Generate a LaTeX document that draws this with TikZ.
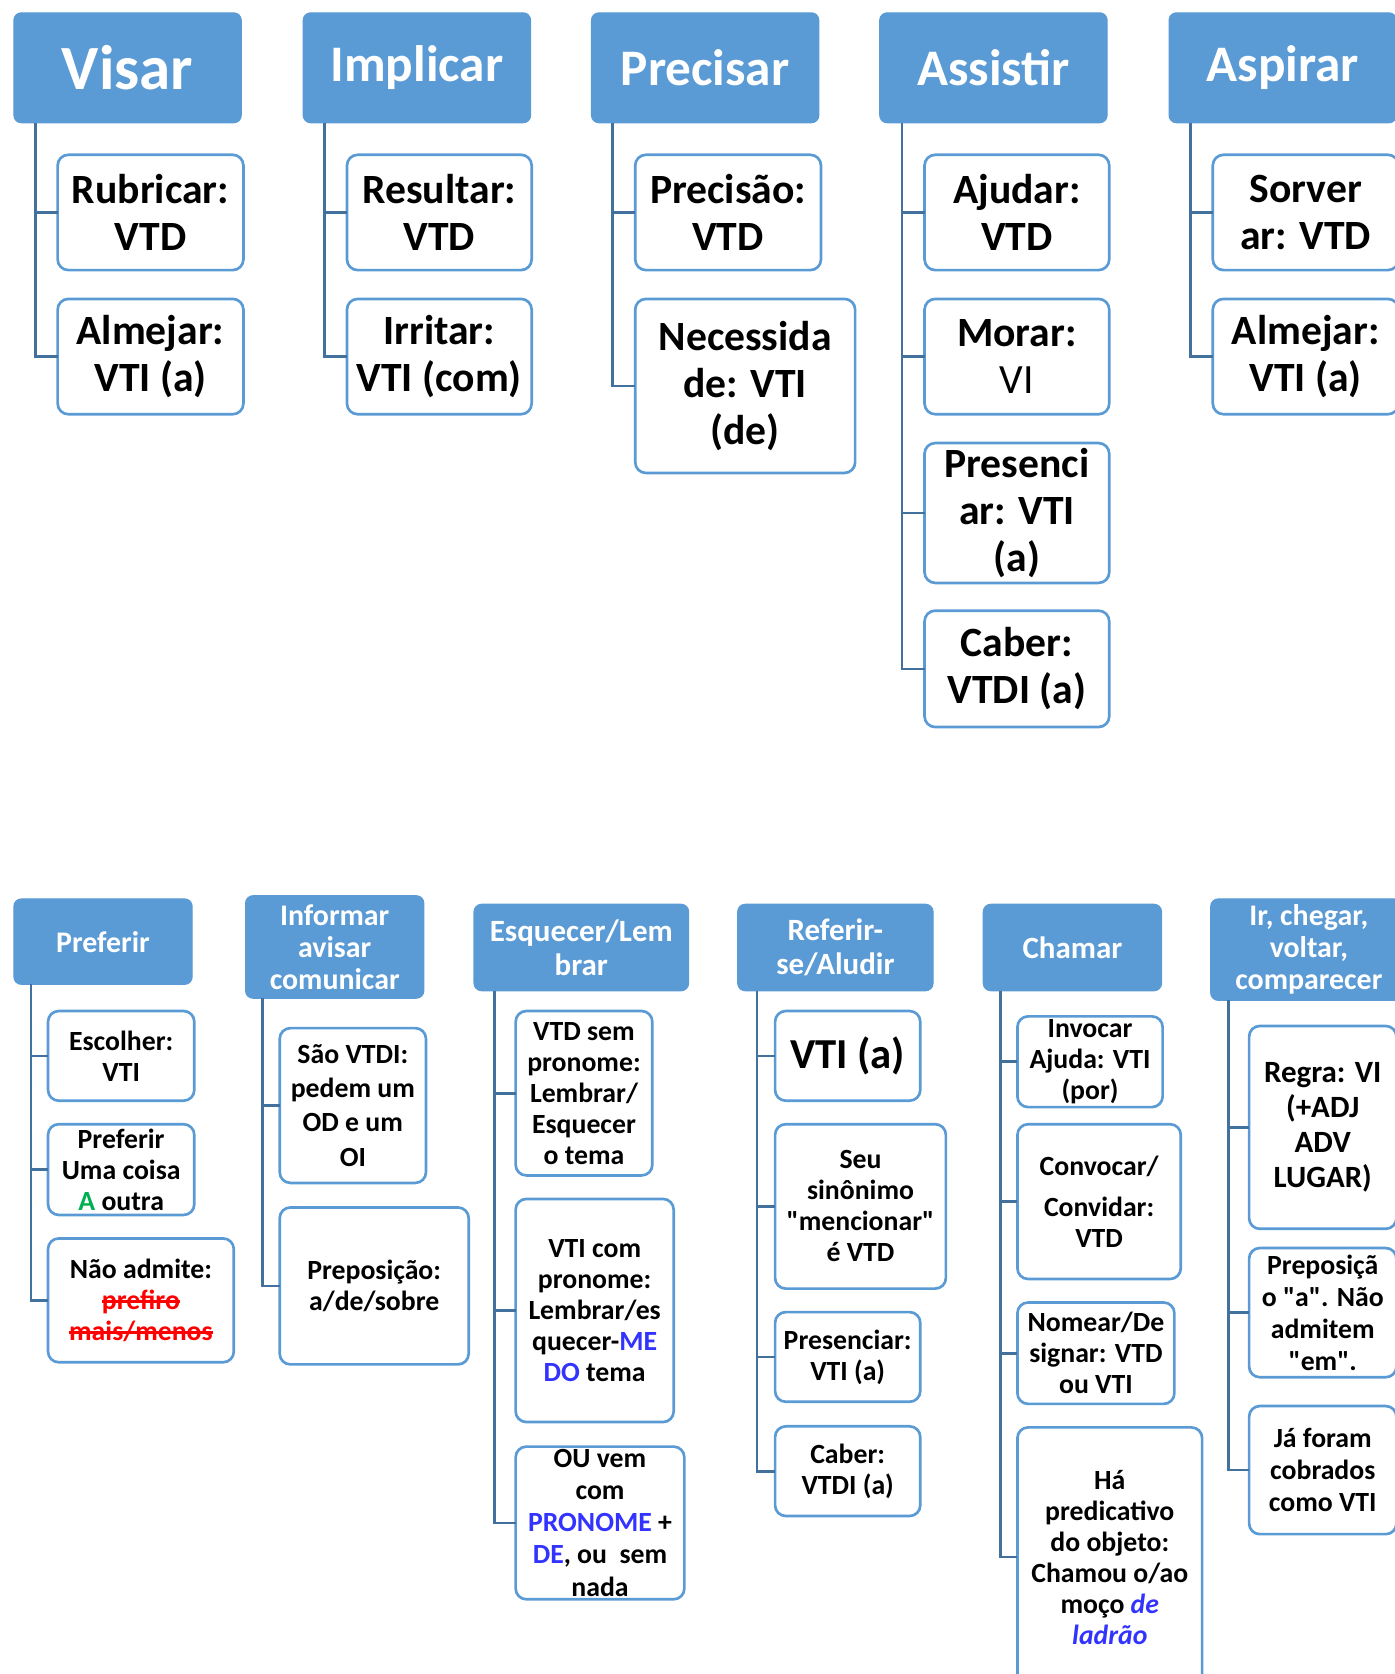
\documentclass[tikz,border=0pt]{standalone}
\usepackage{fontspec}
\setmainfont{Carlito}[Ligatures=TeXOff]
\definecolor{hblue}{HTML}{5B9BD5}
\definecolor{cblue}{HTML}{41719C}
\definecolor{agreen}{HTML}{00B050}
\definecolor{tblue}{HTML}{3333FF}
\newsavebox\strkbox
\newcommand\bx[7]{\node[#6, minimum width={(#4-#2)*1pt}, minimum height={(#5-#3)*1pt}] (#1) at ({(#2+#4)/2},{(#3+#5)/2}) {#7};}
\newcommand\tree[3]{\foreach \c in {#3} {\draw[conn] ([xshift=#2pt]#1.south west) |- (\c.west);}}
\newcommand\strk[1]{\sbox\strkbox{\color{red}#1}{\color{red}\rlap{\usebox\strkbox}\rule[0.24em]{\wd\strkbox}{2.2pt}}}
\newcommand\bl[1]{{\color{tblue}#1}}
\tikzset{
  hdr/.style={fill=hblue, draw=hblue, line width=1pt, rounded corners=7pt, text=white, align=center, inner sep=0pt, outer sep=0pt},
  kid/.style={draw=hblue, line width=2.5pt, fill=white, rounded corners=10pt, align=center, inner sep=0pt, outer sep=0pt, text=black},
  conn/.style={draw=cblue, line width=2.5pt},
  thV/.style={hdr, font=\fontsize{59}{64}\selectfont\bfseries},
  th/.style={hdr, font=\fontsize{48}{52}\selectfont\bfseries},
  tk/.style={kid, font=\fontsize{39}{44}\selectfont\bfseries},
  bh/.style={hdr, font=\fontsize{28}{30}\selectfont\bfseries},
  bh2/.style={hdr, font=\fontsize{29}{32}\selectfont\bfseries},
  bk/.style={kid, font=\fontsize{26}{29}\selectfont\bfseries},
}
\begin{document}
\begin{tikzpicture}[x=1pt, y=-1pt]
\useasboundingbox (0,0) rectangle (1306,1568);
% ---------- top headers
\bx{hV}{13}{12}{226}{115}{thV}{Visar}
\bx{hI}{284}{12}{497}{115}{th}{Implicar}
\bx{hP}{554}{12}{767}{115}{th}{Precisar}
\bx{hAs}{824}{12}{1037}{115}{th}{Assistir}
\bx{hAp}{1095}{12}{1308}{115}{th}{Aspirar}
% ---------- top children
\bx{cV1}{54}{145}{228}{253}{tk}{Rubricar:\\VTD}
\bx{cV2}{54}{280}{228}{388}{tk}{Almejar:\\VTI (a)}
\bx{cI1}{325}{145}{498}{253}{tk}{Resultar:\\VTD}
\bx{cI2}{325}{280}{498}{388}{tk}{Irritar:\\VTI (com)}
\bx{cP1}{595}{145}{769}{253}{tk}{Precisão:\\VTD}
\bx{cP2}{595}{280}{801}{443}{tk}{Necessida\\de: VTI\\(de)}
\bx{cA1}{866}{145}{1039}{253}{tk}{Ajudar:\\VTD}
\bx{cA2}{866}{280}{1039}{388}{tk}{Morar:\\{\mdseries VI}}
\bx{cA3}{866}{415}{1039}{546}{tk}{Presenci\\ar: VTI\\(a)}
\bx{cA4}{866}{572}{1039}{681}{tk}{Caber:\\VTDI (a)}
\bx{cS1}{1136}{145}{1310}{253}{tk}{Sorver\\ar: VTD}
\bx{cS2}{1136}{280}{1310}{388}{tk}{Almejar:\\VTI (a)}
% ---------- bottom headers
\bx{hPf}{13}{842}{180}{922}{bh}{Preferir}
\bx{hIn}{230}{842}{397}{938}{bh, yshift=3pt}{Informar\\avisar\\comunicar}
\bx{hEs}{444}{847}{645}{928}{bh2}{Esquecer/Lem\\brar}
\bx{hRf}{691}{847}{874}{928}{bh2}{Referir-\\se/Aludir}
\bx{hCh}{921}{847}{1088}{928}{bh2}{Chamar}
\bx{hIr}{1134}{842}{1318}{937}{bh}{Ir, chegar,\\voltar,\\comparecer}
% ---------- bottom children
\bx{cF1}{45}{947}{182}{1031}{bk}{Escolher:\\VTI}
\bx{cF2}{45}{1053}{182}{1138}{bk}{Preferir\\Uma coisa\\\textcolor{agreen}{A} outra}
\bx{cF3}{45}{1160}{219}{1276}{bk}{Não admite:\\\strk{prefiro}\\\strk{mais/menos}}
\bx{cN1}{262}{963}{399}{1108}{bk, font=\fontsize{26}{32}\selectfont\bfseries}{São VTDI:\\pedem um\\OD e um\\OI}
\bx{cN2}{262}{1131}{439}{1278}{bk}{Preposição:\\a/de/sobre}
\bx{cE1}{483}{947}{611}{1101}{bk}{VTD sem\\pronome:\\Lembrar/\\Esquecer\\o tema}
\bx{cE2}{483}{1123}{631}{1332}{bk}{VTI com\\pronome:\\Lembrar/es\\quecer-\bl{ME}\\\bl{DO} tema}
\bx{cE3}{483}{1355}{641}{1498}{bk, font=\fontsize{26}{30}\selectfont\bfseries}{OU vem\\com\\\bl{PRONOME} +\\\bl{DE}, ou\ \ sem\\nada}
\bx{cR1}{726}{947}{862}{1031}{kid, font=\fontsize{40}{44}\selectfont\bfseries}{VTI (a)}
\bx{cR2}{726}{1053}{886}{1207}{bk}{Seu\\sinônimo\\"mencionar"\\é VTD}
\bx{cR3}{726}{1229}{862}{1313}{bk}{Presenciar:\\VTI (a)}
\bx{cR4}{726}{1336}{862}{1420}{bk}{Caber:\\VTDI (a)}
\bx{cC1}{953}{952}{1089}{1037}{bk}{Invocar\\Ajuda: VTI\\(por)}
\bx{cC2}{953}{1053}{1106}{1198}{bk}{Convocar/\\[10pt]Convidar:\\VTD}
\bx{cC3}{953}{1220}{1100}{1315}{bk}{Nomear/De\\signar: VTD\\ou VTI}
\bx{cC4}{953}{1337}{1126}{1580}{bk}{Há\\predicativo\\do objeto:\\Chamou o/ao\\moço \bl{\itshape de}\\\bl{\itshape ladrão}}
\bx{cT1}{1170}{961}{1308}{1151}{bk, font=\fontsize{29}{33}\selectfont\bfseries}{Regra: VI\\(+ADJ\\ADV\\LUGAR)}
\bx{cT2}{1170}{1169}{1308}{1290}{bk, font=\fontsize{26}{30}\selectfont\bfseries}{Preposiçã\\o "a". Não\\admitem\\"em".}
\bx{cT3}{1170}{1317}{1308}{1437}{bk, font=\fontsize{26}{30}\selectfont\bfseries}{Já foram\\cobrados\\como VTI}
% ---------- connectors
\tree{hV}{20}{cV1,cV2}
\tree{hI}{20}{cI1,cI2}
\tree{hP}{20}{cP1,cP2}
\tree{hAs}{21}{cA1,cA2,cA3,cA4}
\tree{hAp}{20}{cS1,cS2}
\tree{hPf}{16}{cF1,cF2,cF3}
\tree{hIn}{16}{cN1,cN2}
\tree{hEs}{19}{cE1,cE2,cE3}
\tree{hRf}{18}{cR1,cR2,cR3,cR4}
\tree{hCh}{16}{cC1,cC2,cC3,cC4}
\tree{hIr}{17}{cT1,cT2,cT3}
\end{tikzpicture}
\end{document}
